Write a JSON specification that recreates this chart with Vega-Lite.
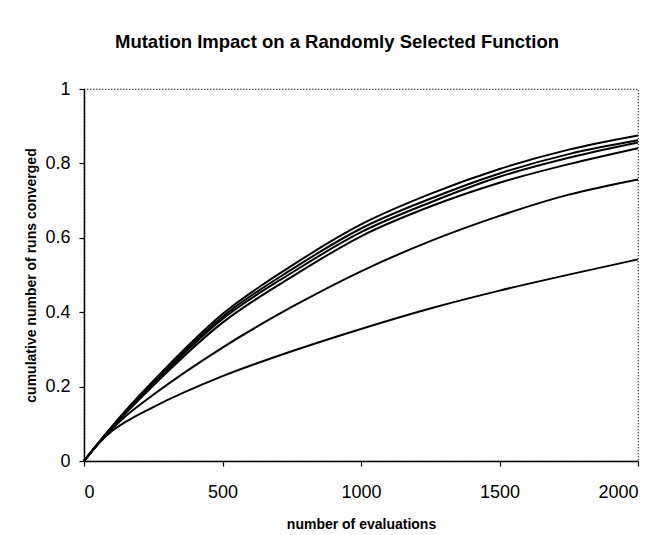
{
  "$schema": "https://vega.github.io/schema/vega-lite/v6.json",
  "width": 554,
  "height": 372,
  "autosize": {"type": "none"},
  "padding": {"left": 84, "top": 89, "right": 24, "bottom": 74},
  "background": "white",
  "title": {
    "text": "Mutation Impact on a Randomly Selected Function",
    "font": "Liberation Sans",
    "fontSize": 18.5,
    "fontWeight": "bold",
    "color": "black",
    "anchor": "middle",
    "offset": 29,
    "dx": -24
  },
  "data": {
    "values": [
      {"series": "A", "x": 0, "y": 0}, {"series": "A", "x": 50, "y": 0.047}, {"series": "A", "x": 100, "y": 0.092}, {"series": "A", "x": 150, "y": 0.135}, {"series": "A", "x": 250, "y": 0.215}, {"series": "A", "x": 500, "y": 0.395}, {"series": "A", "x": 750, "y": 0.525}, {"series": "A", "x": 1000, "y": 0.636}, {"series": "A", "x": 1250, "y": 0.718}, {"series": "A", "x": 1500, "y": 0.785}, {"series": "A", "x": 1750, "y": 0.837}, {"series": "A", "x": 2000, "y": 0.875},
      {"series": "B", "x": 0, "y": 0}, {"series": "B", "x": 50, "y": 0.047}, {"series": "B", "x": 100, "y": 0.091}, {"series": "B", "x": 150, "y": 0.133}, {"series": "B", "x": 250, "y": 0.212}, {"series": "B", "x": 500, "y": 0.388}, {"series": "B", "x": 750, "y": 0.515}, {"series": "B", "x": 1000, "y": 0.625}, {"series": "B", "x": 1250, "y": 0.705}, {"series": "B", "x": 1500, "y": 0.773}, {"series": "B", "x": 1750, "y": 0.825}, {"series": "B", "x": 2000, "y": 0.862},
      {"series": "C", "x": 0, "y": 0}, {"series": "C", "x": 50, "y": 0.046}, {"series": "C", "x": 100, "y": 0.09}, {"series": "C", "x": 150, "y": 0.131}, {"series": "C", "x": 250, "y": 0.208}, {"series": "C", "x": 500, "y": 0.382}, {"series": "C", "x": 750, "y": 0.506}, {"series": "C", "x": 1000, "y": 0.615}, {"series": "C", "x": 1250, "y": 0.695}, {"series": "C", "x": 1500, "y": 0.764}, {"series": "C", "x": 1750, "y": 0.815}, {"series": "C", "x": 2000, "y": 0.856},
      {"series": "D", "x": 0, "y": 0}, {"series": "D", "x": 50, "y": 0.046}, {"series": "D", "x": 100, "y": 0.089}, {"series": "D", "x": 150, "y": 0.128}, {"series": "D", "x": 250, "y": 0.203}, {"series": "D", "x": 500, "y": 0.372}, {"series": "D", "x": 750, "y": 0.495}, {"series": "D", "x": 1000, "y": 0.604}, {"series": "D", "x": 1250, "y": 0.684}, {"series": "D", "x": 1500, "y": 0.748}, {"series": "D", "x": 1750, "y": 0.798}, {"series": "D", "x": 2000, "y": 0.841},
      {"series": "E", "x": 0, "y": 0}, {"series": "E", "x": 50, "y": 0.045}, {"series": "E", "x": 100, "y": 0.085}, {"series": "E", "x": 150, "y": 0.12}, {"series": "E", "x": 250, "y": 0.178}, {"series": "E", "x": 500, "y": 0.305}, {"series": "E", "x": 750, "y": 0.414}, {"series": "E", "x": 1000, "y": 0.51}, {"series": "E", "x": 1250, "y": 0.591}, {"series": "E", "x": 1500, "y": 0.659}, {"series": "E", "x": 1750, "y": 0.716}, {"series": "E", "x": 2000, "y": 0.757},
      {"series": "F", "x": 0, "y": 0}, {"series": "F", "x": 50, "y": 0.045}, {"series": "F", "x": 100, "y": 0.08}, {"series": "F", "x": 150, "y": 0.105}, {"series": "F", "x": 250, "y": 0.145}, {"series": "F", "x": 500, "y": 0.228}, {"series": "F", "x": 750, "y": 0.295}, {"series": "F", "x": 1000, "y": 0.355}, {"series": "F", "x": 1250, "y": 0.41}, {"series": "F", "x": 1500, "y": 0.458}, {"series": "F", "x": 1750, "y": 0.501}, {"series": "F", "x": 2000, "y": 0.542}
    ]
  },
  "mark": {"type": "line", "color": "black", "strokeWidth": 2, "interpolate": "monotone"},
  "encoding": {
    "x": {
      "field": "x",
      "type": "quantitative",
      "scale": {"domain": [0, 2000], "nice": false},
      "axis": {
        "title": "number of evaluations",
        "values": [0, 500, 1000, 1500, 2000],
        "format": "d",
        "grid": false,
        "labelPadding": 17,
        "titlePadding": 16
      }
    },
    "y": {
      "field": "y",
      "type": "quantitative",
      "scale": {"domain": [0, 1], "nice": false},
      "axis": {
        "title": "cumulative number of runs converged",
        "values": [0, 0.2, 0.4, 0.6, 0.8, 1],
        "format": "~g",
        "grid": false,
        "labelPadding": 9,
        "titlePadding": 6
      }
    },
    "detail": {"field": "series", "type": "nominal"}
  },
  "config": {
    "view": {"stroke": "black", "strokeDash": [1, 2], "strokeWidth": 1.2},
    "axis": {
      "domainColor": "black",
      "domainWidth": 1.5,
      "tickColor": "black",
      "tickSize": 5,
      "tickWidth": 1.2,
      "labelFont": "Liberation Sans",
      "labelFontSize": 18,
      "labelColor": "black",
      "titleFont": "Liberation Sans",
      "titleFontSize": 14,
      "titleFontWeight": "bold",
      "titleColor": "black"
    }
  }
}
